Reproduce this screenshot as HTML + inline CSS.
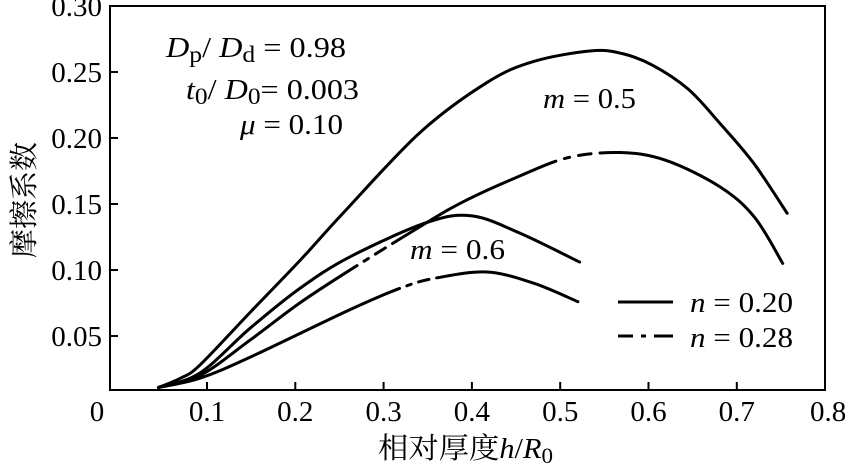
<!DOCTYPE html>
<html><head><meta charset="utf-8"><style>
html,body{margin:0;padding:0;background:#fff}
svg{display:block}
svg text{font-family:"Liberation Serif","Times New Roman",Times,"Noto Serif CJK SC","DejaVu Serif",serif}
</style></head><body>
<svg id="chart" width="845" height="470" viewBox="0 0 845 470">
<rect x="110" y="6" width="715" height="384" fill="none" stroke="#000" stroke-width="2"/>
<g id="ticks"></g>
<g id="curves" fill="none" stroke="#000" stroke-width="3" stroke-linecap="round" stroke-linejoin="round"></g>
<text x="166" y="57" font-size="29" font-style="italic" textLength="180" lengthAdjust="spacingAndGlyphs">D<tspan font-style="normal" font-size="23" dy="5">p</tspan><tspan font-style="normal" dy="-5">/ </tspan>D<tspan font-style="normal" font-size="23" dy="5">d</tspan><tspan font-style="normal" dy="-5"> = 0.98</tspan></text>
<text x="186" y="99" font-size="29" font-style="italic" textLength="173" lengthAdjust="spacingAndGlyphs">t<tspan font-style="normal" font-size="23" dy="5">0</tspan><tspan font-style="normal" dy="-5">/ </tspan>D<tspan font-style="normal" font-size="23" dy="5">0</tspan><tspan font-style="normal" dy="-5">= 0.003</tspan></text>
<text x="240" y="134" font-size="29" font-style="italic" textLength="103" lengthAdjust="spacingAndGlyphs">μ<tspan font-style="normal"> = 0.10</tspan></text>
<text x="543" y="108" font-size="29" font-style="italic" textLength="93" lengthAdjust="spacingAndGlyphs">m<tspan font-style="normal"> = 0.5</tspan></text>
<text x="410" y="259" font-size="29" font-style="italic" textLength="95" lengthAdjust="spacingAndGlyphs">m<tspan font-style="normal"> = 0.6</tspan></text>
<line x1="618" y1="302" x2="673" y2="302" stroke="#000" stroke-width="3"/>
<line x1="618" y1="336" x2="673" y2="336" stroke="#000" stroke-width="3" stroke-dasharray="15 8 5 8 20"/>
<text x="690" y="312" font-size="29" font-style="italic" textLength="103" lengthAdjust="spacingAndGlyphs">n<tspan font-style="normal"> = 0.20</tspan></text>
<text x="690" y="347" font-size="29" font-style="italic" textLength="103" lengthAdjust="spacingAndGlyphs">n<tspan font-style="normal"> = 0.28</tspan></text>
<text transform="translate(34,200) rotate(-90)" text-anchor="middle" font-size="29">摩擦系数</text>
<text x="378" y="458" font-size="29" textLength="175" lengthAdjust="spacingAndGlyphs">相对厚度<tspan font-style="italic">h</tspan>/<tspan font-style="italic">R</tspan><tspan font-size="22" dy="5">0</tspan></text>
</svg>
<script>
const xTicks=[0,0.1,0.2,0.3,0.4,0.5,0.6,0.7,0.8];
const xTickLabels=["0","0.1","0.2","0.3","0.4","0.5","0.6","0.7","0.8"];
const yTicks=[0.05,0.10,0.15,0.20,0.25,0.30];
const yTickLabels=["0.05","0.10","0.15","0.20","0.25","0.30"];
const aX=[0.045,0.07,0.092,0.149,0.205,0.254,0.341,0.417,0.47,0.535,0.57,0.605,0.645,0.681,0.719,0.757];
const aY=[0.011,0.018,0.028,0.068,0.107,0.143,0.204,0.242,0.258,0.266,0.264,0.255,0.237,0.211,0.181,0.143];
const bX=[0.045,0.092,0.149,0.205,0.262,0.349,0.394,0.45,0.508,0.568,0.62,0.681,0.72,0.752];
const bY=[0.011,0.02,0.047,0.075,0.100,0.136,0.153,0.17,0.185,0.189,0.183,0.163,0.14,0.105];
const cX=[0.045,0.092,0.149,0.205,0.262,0.349,0.40,0.454,0.522];
const cY=[0.011,0.022,0.056,0.086,0.110,0.136,0.141,0.128,0.106];
const dX=[0.045,0.092,0.149,0.262,0.322,0.36,0.417,0.47,0.52];
const dY=[0.011,0.018,0.034,0.07,0.087,0.094,0.0985,0.09,0.076];
const X=v=>118.7+v*883, Y=v=>402-v*1320;
const NS="http://www.w3.org/2000/svg";
const tg=document.getElementById('ticks'), cg=document.getElementById('curves');
xTicks.forEach((t,i)=>{
  if(t>0&&t<0.8){const l=document.createElementNS(NS,'line');
  
  
  l.setAttribute('x1',X(t));l.setAttribute('x2',X(t));l.setAttribute('y1',390);l.setAttribute('y2',382);l.setAttribute('stroke','#000');l.setAttribute('stroke-width','2');tg.appendChild(l);}
  const s=document.createElementNS(NS,'text');
  
  
  s.setAttribute('x',t===0?97:(t===0.8?X(t)+3:X(t)));s.setAttribute('y',421);s.setAttribute('text-anchor','middle');s.setAttribute('font-size','29');s.textContent=xTickLabels[i];tg.appendChild(s);
});
yTicks.forEach((t,i)=>{
  if(t<0.3){const l=document.createElementNS(NS,'line');
  
  
  l.setAttribute('x1',110);l.setAttribute('x2',118);l.setAttribute('y1',Y(t));l.setAttribute('y2',Y(t));l.setAttribute('stroke','#000');l.setAttribute('stroke-width','2');tg.appendChild(l);}
  const s=document.createElementNS(NS,'text');
  
  
  s.setAttribute('x',102);s.setAttribute('y',Y(t)+10);s.setAttribute('text-anchor','end');s.setAttribute('font-size','29');s.textContent=yTickLabels[i];tg.appendChild(s);
});
function pathD(xs,ys){
  const p=xs.map((x,i)=>[X(x),Y(ys[i])]);
  let d='M'+p[0][0]+','+p[0][1];
  for(let i=0;i<p.length-1;i++){
    const p0=p[Math.max(0,i-1)],p1=p[i],p2=p[i+1],p3=p[Math.min(p.length-1,i+2)];
    const c1=[p1[0]+(p2[0]-p0[0])/6,p1[1]+(p2[1]-p0[1])/6];
    const c2=[p2[0]-(p3[0]-p1[0])/6,p2[1]-(p3[1]-p1[1])/6];
    d+=' C'+c1+' '+c2+' '+p2;
  }
  return d;
}
function addCurve(xs,ys,name,dashRanges){
  const p=document.createElementNS(NS,'path');
  
  
  p.setAttribute('d',pathD(xs,ys));
  cg.appendChild(p);
  if(dashRanges){
    const L=p.getTotalLength();
    const lenAt=xv=>{let lo=0,hi=L;for(let k=0;k<30;k++){const m=(lo+hi)/2;if(p.getPointAtLength(m).x<X(xv))lo=m;else hi=m;}return lo;};
    const out=[];let pos=0;
    dashRanges.forEach(r=>{const s=lenAt(r[0]),e=lenAt(r[1]);const seg=e-s;
      out.push(s-pos,seg*0.2,seg*0.12,seg*0.2,seg*0.28,seg*0.2);pos=e;});
    out.push(L-pos+5,L);
    p.setAttribute('stroke-dasharray',out.join(' '));
  }
}
addCurve(aX,aY,'curve-m05-n020');
addCurve(cX,cY,'curve-m06-n020');
addCurve(bX,bY,'curve-m05-n028',[[0.27,0.31],[0.495,0.545]]);
addCurve(dX,dY,'curve-m06-n028',[[0.318,0.36]]);
</script>
</body></html>
